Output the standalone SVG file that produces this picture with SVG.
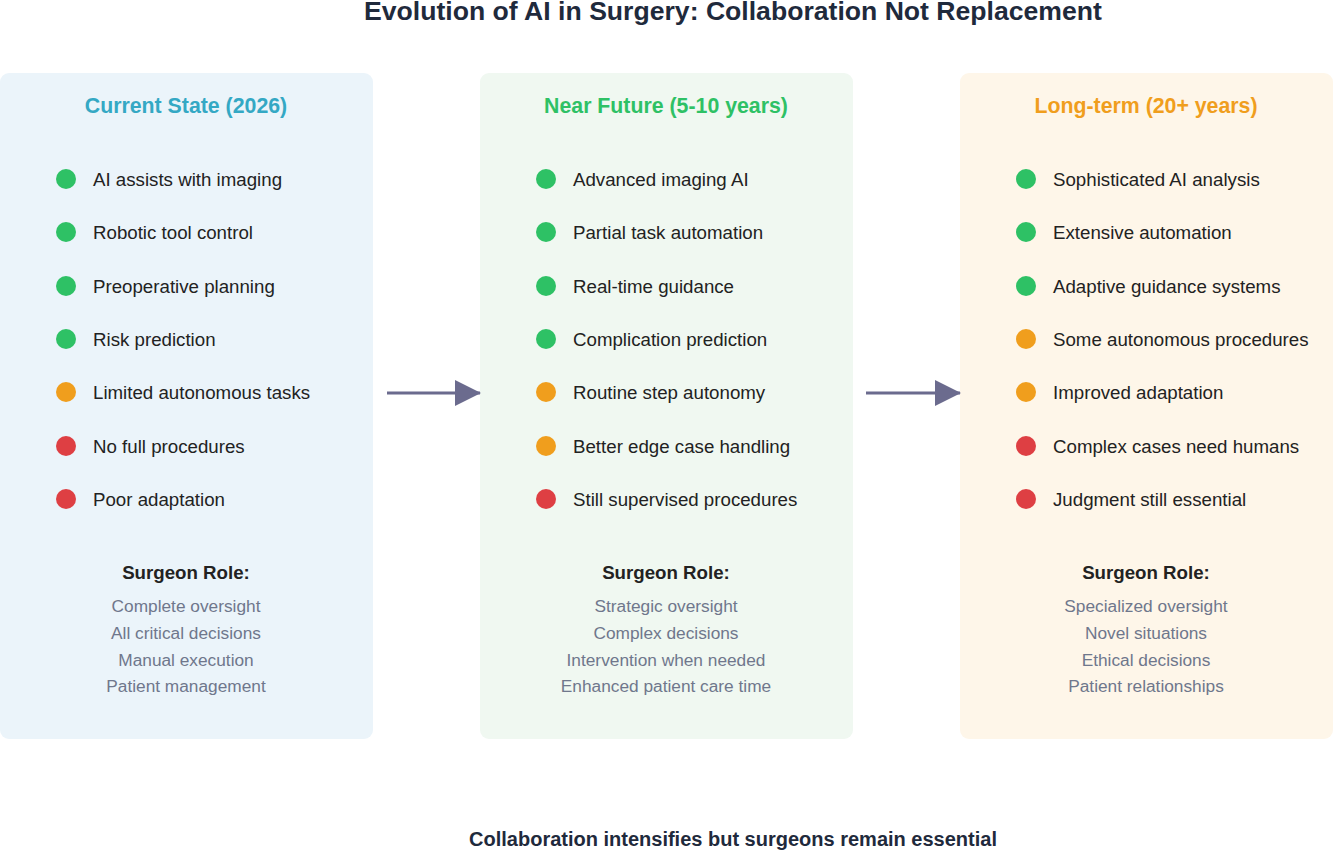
<svg xmlns="http://www.w3.org/2000/svg" width="1333" height="850" viewBox="0 0 1333 850">
<style>
text{font-family:"Liberation Sans",Arial,sans-serif}
.title{font-size:26.6px;font-weight:bold;fill:#1f2a3c}
.h{font-size:21.3px;font-weight:bold}
.it{font-size:18.7px;fill:#222}
.sr{font-size:18.7px;font-weight:bold;fill:#222}
.rl{font-size:17.3px;fill:#6f778c}
.g{fill:#2ec165}.o{fill:#f09e1d}.r{fill:#de3f43}
.foot{font-size:20px;font-weight:bold;fill:#1f2a3c}
</style>
<defs><marker id="ah" markerWidth="26" markerHeight="26" refX="25" refY="13" orient="auto" markerUnits="userSpaceOnUse"><path d="M0,0 L26,13 L0,26Z" fill="#6b6b8e"/></marker></defs>
<rect width="1333" height="850" fill="#fff"/>
<text class="title" x="733" y="20" text-anchor="middle">Evolution of AI in Surgery: Collaboration Not Replacement</text>
<g id="panel1">
<rect x="0" y="73" width="373" height="666" rx="9" fill="#ebf4fa"/>
<text class="h" x="186" y="113" text-anchor="middle" fill="#34a8c4">Current State (2026)</text>
<circle class="g" cx="66" cy="179" r="10"/><text class="it" x="93" y="186">AI assists with imaging</text>
<circle class="g" cx="66" cy="232" r="10"/><text class="it" x="93" y="239">Robotic tool control</text>
<circle class="g" cx="66" cy="286" r="10"/><text class="it" x="93" y="293">Preoperative planning</text>
<circle class="g" cx="66" cy="339" r="10"/><text class="it" x="93" y="346">Risk prediction</text>
<circle class="o" cx="66" cy="392" r="10"/><text class="it" x="93" y="399">Limited autonomous tasks</text>
<circle class="r" cx="66" cy="446" r="10"/><text class="it" x="93" y="453">No full procedures</text>
<circle class="r" cx="66" cy="499" r="10"/><text class="it" x="93" y="506">Poor adaptation</text>
<text class="sr" x="186" y="579" text-anchor="middle">Surgeon Role:</text>
<text class="rl" x="186" y="612" text-anchor="middle">Complete oversight</text>
<text class="rl" x="186" y="639" text-anchor="middle">All critical decisions</text>
<text class="rl" x="186" y="666" text-anchor="middle">Manual execution</text>
<text class="rl" x="186" y="692" text-anchor="middle">Patient management</text>
</g>
<g id="panel2">
<rect x="480" y="73" width="373" height="666" rx="9" fill="#f0f8f1"/>
<text class="h" x="666" y="113" text-anchor="middle" fill="#2ec165">Near Future (5-10 years)</text>
<circle class="g" cx="546" cy="179" r="10"/><text class="it" x="573" y="186">Advanced imaging AI</text>
<circle class="g" cx="546" cy="232" r="10"/><text class="it" x="573" y="239">Partial task automation</text>
<circle class="g" cx="546" cy="286" r="10"/><text class="it" x="573" y="293">Real-time guidance</text>
<circle class="g" cx="546" cy="339" r="10"/><text class="it" x="573" y="346">Complication prediction</text>
<circle class="o" cx="546" cy="392" r="10"/><text class="it" x="573" y="399">Routine step autonomy</text>
<circle class="o" cx="546" cy="446" r="10"/><text class="it" x="573" y="453">Better edge case handling</text>
<circle class="r" cx="546" cy="499" r="10"/><text class="it" x="573" y="506">Still supervised procedures</text>
<text class="sr" x="666" y="579" text-anchor="middle">Surgeon Role:</text>
<text class="rl" x="666" y="612" text-anchor="middle">Strategic oversight</text>
<text class="rl" x="666" y="639" text-anchor="middle">Complex decisions</text>
<text class="rl" x="666" y="666" text-anchor="middle">Intervention when needed</text>
<text class="rl" x="666" y="692" text-anchor="middle">Enhanced patient care time</text>
</g>
<g id="panel3">
<rect x="960" y="73" width="373" height="666" rx="9" fill="#fef6e9"/>
<text class="h" x="1146" y="113" text-anchor="middle" fill="#f09e1d">Long-term (20+ years)</text>
<circle class="g" cx="1026" cy="179" r="10"/><text class="it" x="1053" y="186">Sophisticated AI analysis</text>
<circle class="g" cx="1026" cy="232" r="10"/><text class="it" x="1053" y="239">Extensive automation</text>
<circle class="g" cx="1026" cy="286" r="10"/><text class="it" x="1053" y="293">Adaptive guidance systems</text>
<circle class="o" cx="1026" cy="339" r="10"/><text class="it" x="1053" y="346">Some autonomous procedures</text>
<circle class="o" cx="1026" cy="392" r="10"/><text class="it" x="1053" y="399">Improved adaptation</text>
<circle class="r" cx="1026" cy="446" r="10"/><text class="it" x="1053" y="453">Complex cases need humans</text>
<circle class="r" cx="1026" cy="499" r="10"/><text class="it" x="1053" y="506">Judgment still essential</text>
<text class="sr" x="1146" y="579" text-anchor="middle">Surgeon Role:</text>
<text class="rl" x="1146" y="612" text-anchor="middle">Specialized oversight</text>
<text class="rl" x="1146" y="639" text-anchor="middle">Novel situations</text>
<text class="rl" x="1146" y="666" text-anchor="middle">Ethical decisions</text>
<text class="rl" x="1146" y="692" text-anchor="middle">Patient relationships</text>
</g>
<g id="connectors" stroke="#6b6b8e" stroke-width="3">
<line x1="387" y1="393" x2="480" y2="393" marker-end="url(#ah)"/>
<line x1="866" y1="393" x2="960" y2="393" marker-end="url(#ah)"/>
</g>
<text class="foot" x="733" y="846" text-anchor="middle">Collaboration intensifies but surgeons remain essential</text>
</svg>
